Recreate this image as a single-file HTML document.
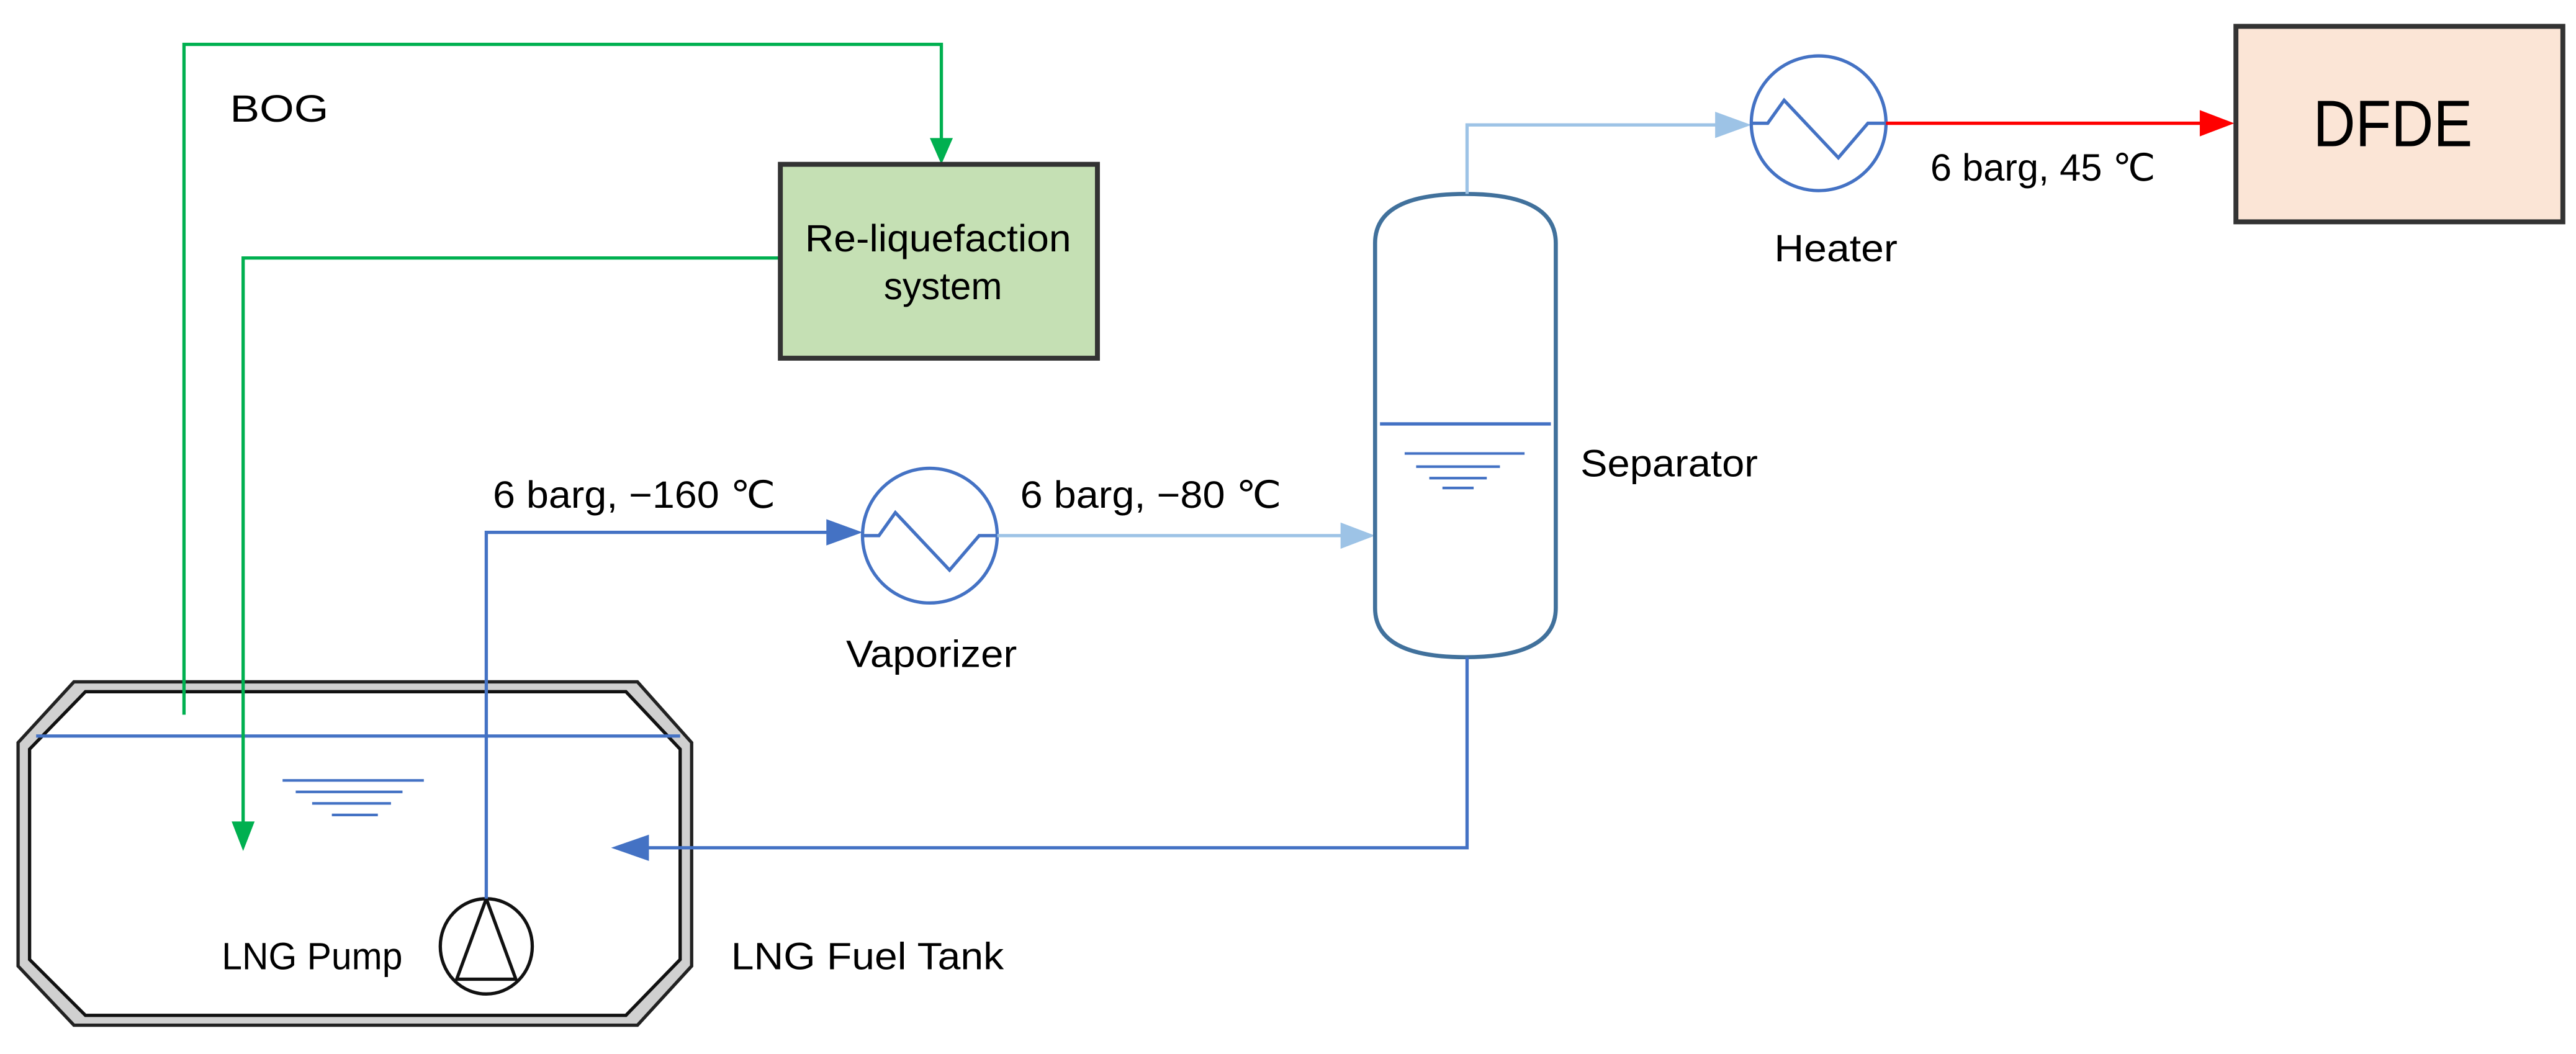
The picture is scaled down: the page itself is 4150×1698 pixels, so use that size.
<!DOCTYPE html>
<html><head><style>html,body{margin:0;padding:0;background:#fff}svg{display:block}</style></head>
<body>
<svg width="4150" height="1698" viewBox="0 0 1568 641.5" xmlns="http://www.w3.org/2000/svg" font-family="Liberation Sans, DejaVu Sans, sans-serif" font-size="23">
<!-- tank -->
<path d="M45,415 L388,415 L421,452 L421,588 L388,624 L45,624 L11,588 L11,452 Z" fill="#d0d0d0" stroke="#222" stroke-width="2"/>
<path d="M52,421 L381,421 L414,456 L414,584 L381,618 L52,618 L18,584 L18,456 Z" fill="#fff" stroke="#111" stroke-width="2"/>
<line x1="22" y1="448" x2="414" y2="448" stroke="#4472c4" stroke-width="2"/>
<g stroke="#4472c4" stroke-width="1.6">
<line x1="172" y1="475" x2="258" y2="475"/><line x1="180" y1="482" x2="245" y2="482"/><line x1="190" y1="489" x2="238" y2="489"/><line x1="202" y1="496" x2="230" y2="496"/>
</g>
<!-- pump -->
<ellipse cx="296" cy="576" rx="28" ry="29" fill="#fff" stroke="#111" stroke-width="2"/>
<path d="M296,547 L278,596 L314,596 Z" fill="none" stroke="#111" stroke-width="2"/>
<!-- green lines -->
<polyline points="112,435 112,27 573,27 573,92" fill="none" stroke="#00b050" stroke-width="2"/>
<path d="M566,84 L580,84 L573,100 Z" fill="#00b050"/>
<polyline points="474,157 148,157 148,502" fill="none" stroke="#00b050" stroke-width="2"/>
<path d="M141,500 L155,500 L148,518 Z" fill="#00b050"/>
<rect x="475" y="100" width="193" height="118" fill="#c5e0b4" stroke="#333" stroke-width="3"/>
<text x="490" y="153" textLength="162" lengthAdjust="spacingAndGlyphs">Re-liquefaction</text>
<text x="538" y="182" textLength="72" lengthAdjust="spacingAndGlyphs">system</text>
<text x="140" y="74" textLength="60" lengthAdjust="spacingAndGlyphs">BOG</text>
<!-- blue pump line -->
<polyline points="296,547 296,324 506,324" fill="none" stroke="#4472c4" stroke-width="2"/>
<path d="M503,316 L525,324 L503,332 Z" fill="#4472c4"/>
<!-- vaporizer -->
<circle cx="566" cy="326" r="41" fill="#fff" stroke="#4472c4" stroke-width="2"/>
<polyline points="525,326 535,326 545,312 578,347 596,326 607,326" fill="none" stroke="#4472c4" stroke-width="2"/>
<line x1="607" y1="326" x2="820" y2="326" stroke="#9dc3e6" stroke-width="2"/>
<path d="M816,318 L837,326 L816,334 Z" fill="#9dc3e6"/>
<!-- separator -->
<path d="M837,148 Q837,118 892,118 Q947,118 947,148 L947,370 Q947,400 892,400 Q837,400 837,370 Z" fill="#fff" stroke="#41719c" stroke-width="2.5"/>
<line x1="840" y1="258" x2="944" y2="258" stroke="#4472c4" stroke-width="2"/>
<g stroke="#4472c4" stroke-width="1.6">
<line x1="855" y1="276" x2="928" y2="276"/><line x1="862" y1="284" x2="913" y2="284"/><line x1="870" y1="291" x2="905" y2="291"/><line x1="878" y1="297" x2="897" y2="297"/>
</g>
<polyline points="893,118 893,76 1046,76" fill="none" stroke="#9dc3e6" stroke-width="2"/>
<path d="M1044,68 L1066,76 L1044,84 Z" fill="#9dc3e6"/>
<polyline points="893,400 893,516 392,516" fill="none" stroke="#4472c4" stroke-width="2"/>
<path d="M395,508 L372,516 L395,524 Z" fill="#4472c4"/>
<!-- heater -->
<circle cx="1107" cy="75" r="41" fill="#fff" stroke="#4472c4" stroke-width="2"/>
<polyline points="1066,75 1076,75 1086,61 1119,96 1137,75 1148,75" fill="none" stroke="#4472c4" stroke-width="2"/>
<line x1="1148" y1="75" x2="1342" y2="75" stroke="#ff0000" stroke-width="2"/>
<path d="M1339,67 L1360,75 L1339,83 Z" fill="#ff0000"/>
<rect x="1361" y="16" width="199" height="119" fill="#fbe5d6" stroke="#333" stroke-width="3"/>
<text x="1408" y="89" font-size="40" textLength="97" lengthAdjust="spacingAndGlyphs">DFDE</text>
<!-- labels -->
<text x="300" y="309" textLength="172" lengthAdjust="spacingAndGlyphs">6 barg, −160 ℃</text>
<text x="621" y="309" textLength="159" lengthAdjust="spacingAndGlyphs">6 barg, −80 ℃</text>
<text x="515" y="406" textLength="104" lengthAdjust="spacingAndGlyphs">Vaporizer</text>
<text x="962" y="290" textLength="108" lengthAdjust="spacingAndGlyphs">Separator</text>
<text x="1080" y="159" textLength="75" lengthAdjust="spacingAndGlyphs">Heater</text>
<text x="1175" y="110" textLength="137" lengthAdjust="spacingAndGlyphs">6 barg, 45 ℃</text>
<text x="135" y="590" textLength="110" lengthAdjust="spacingAndGlyphs">LNG Pump</text>
<text x="445" y="590" textLength="166" lengthAdjust="spacingAndGlyphs">LNG Fuel Tank</text>
</svg>
</body></html>
